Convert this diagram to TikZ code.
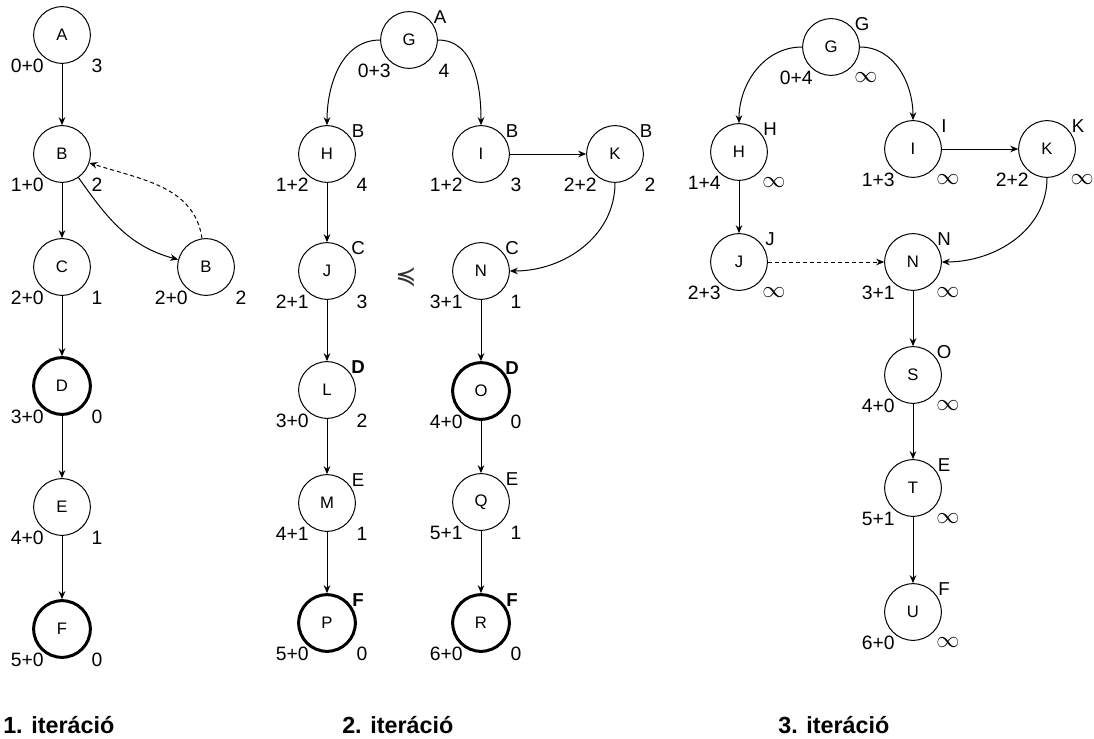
\documentclass[tikz,border=0pt]{standalone}
\usepackage{fontspec}
\setmainfont{Liberation Sans}
\newfontfamily\symfont{DejaVu Sans}
\usetikzlibrary{arrows.meta}

\tikzset{
  state/.style={circle, draw, line width=0.75pt, minimum size=42.5pt, inner sep=0pt,
    font=\fontsize{12.5}{15}\selectfont},
  goal/.style={line width=2.25pt},
  num/.style={inner sep=0pt, font=\fontsize{14.5}{17}\selectfont},
  tag/.style={inner sep=0pt, font=\fontsize{14}{16}\selectfont},
  boldtag/.style={font=\fontsize{14}{16}\selectfont\bfseries},
  edge/.style={->, line width=0.75pt},
  back/.style={edge, dash pattern=on 3pt off 2.25pt},
  itlabel/.style={inner sep=0pt, anchor=base west, font=\fontsize{17.5}{20}\selectfont\bfseries},
}

% state circle with g+h below left and f below right
\newcommand\stnode[6][]{%
  \node[state,#1] (#2) at (#3) {#4};
  \node[num, anchor=east] (#2-g) at ([shift={(-18,31)}]#2.center) {#5};
  \node[num] (#2-f) at ([shift={(35,31)}]#2.center) {#6};
}
% letter at the upper right of a state
\newcommand\sttag[3][]{\node[tag,#1] (#2-t) at ([shift={(31,-23)}]#2.center) {#3};}
\newcommand\infsym{{\fontsize{18}{18}\selectfont$\infty$}}

\begin{document}
\begin{tikzpicture}[x=0.75pt, y=-0.75pt, >={Stealth[length=6pt,width=5pt]}]
\useasboundingbox (0,0) rectangle (1094,738);

% 1. iteracio
\stnode{A1}{62,35}{A}{0+0}{3}
\stnode{B1}{62,154}{B}{1+0}{2}
\stnode{C1}{62,267}{C}{2+0}{1}
\stnode{Bb1}{206,267}{B}{2+0}{2}
\stnode[goal]{D1}{62,386}{D}{3+0}{0}
\stnode{E1}{62,507}{E}{4+0}{1}
\stnode[goal]{F1}{62,629}{F}{5+0}{0}
\foreach \u/\v in {A1/B1, B1/C1, C1/D1, D1/E1, E1/F1}
  \draw[edge] (\u) -- (\v);
\draw[edge] (B1) to[out=-55, in=165] (Bb1);
\draw[back] (Bb1) to[out=98, in=-18] (B1);

% 2. iteracio
\stnode{G2}{409,40}{G}{0+3}{4}        \sttag{G2}{A}
\stnode{H2}{327,154}{H}{1+2}{4}       \sttag{H2}{B}
\stnode{I2}{481,154}{I}{1+2}{3}       \sttag{I2}{B}
\stnode{K2}{615,154}{K}{2+2}{2}       \sttag{K2}{B}
\stnode{J2}{327,271}{J}{2+1}{3}       \sttag{J2}{C}
\stnode{N2}{481,271}{N}{3+1}{1}       \sttag{N2}{C}
\stnode{L2}{327,390}{L}{3+0}{2}       \sttag[boldtag]{L2}{D}
\stnode[goal]{O2}{481,391}{O}{4+0}{0} \sttag[boldtag]{O2}{D}
\stnode{M2}{327,503}{M}{4+1}{1}       \sttag{M2}{E}
\stnode{Q2}{481,502}{Q}{5+1}{1}       \sttag{Q2}{E}
\stnode[goal]{P2}{327,623}{P}{5+0}{0} \sttag[boldtag]{P2}{F}
\stnode[goal]{R2}{481,623}{R}{6+0}{0} \sttag[boldtag]{R2}{F}
\node[inner sep=0pt, text=black!80, font=\symfont\fontsize{19}{19}\selectfont] (prec) at (406,277) {≼};
\draw[edge] (G2.west) to[out=180, in=90] (H2.north);
\draw[edge] (G2.east) to[out=0, in=90] (I2.north);
\draw[edge] (I2) -- (K2);
\draw[edge] (K2.south) to[out=-90, in=0] (N2.east);
\foreach \u/\v in {H2/J2, J2/L2, L2/M2, M2/P2, N2/O2, O2/Q2, Q2/R2}
  \draw[edge] (\u) -- (\v);

% 3. iteracio
\stnode{G3}{831,47}{G}{0+4}{\infsym}   \sttag{G3}{G}
\stnode{H3}{739,152}{H}{1+4}{\infsym}  \sttag{H3}{H}
\stnode{I3}{913,149}{I}{1+3}{\infsym}  \sttag{I3}{I}
\stnode{K3}{1047,149}{K}{2+2}{\infsym} \sttag{K3}{K}
\stnode{J3}{739,262}{J}{2+3}{\infsym}  \sttag{J3}{J}
\stnode{N3}{913,262}{N}{3+1}{\infsym}  \sttag{N3}{N}
\stnode{S3}{913,375}{S}{4+0}{\infsym}  \sttag{S3}{O}
\stnode{T3}{913,488}{T}{5+1}{\infsym}  \sttag{T3}{E}
\stnode{U3}{913,612}{U}{6+0}{\infsym}  \sttag{U3}{F}
\draw[edge] (G3.west) to[out=180, in=90] (H3.north);
\draw[edge] (G3.east) to[out=0, in=90] (I3.north);
\draw[edge] (I3) -- (K3);
\draw[edge] (K3.south) to[out=-90, in=0] (N3.east);
\draw[back] (J3) -- (N3);
\foreach \u/\v in {H3/J3, N3/S3, S3/T3, T3/U3}
  \draw[edge] (\u) -- (\v);

\node[itlabel] (it1) at (3,733) {1. iteráció};
\node[itlabel] (it2) at (342,733) {2. iteráció};
\node[itlabel] (it3) at (778,733) {3. iteráció};
\end{tikzpicture}
\end{document}
